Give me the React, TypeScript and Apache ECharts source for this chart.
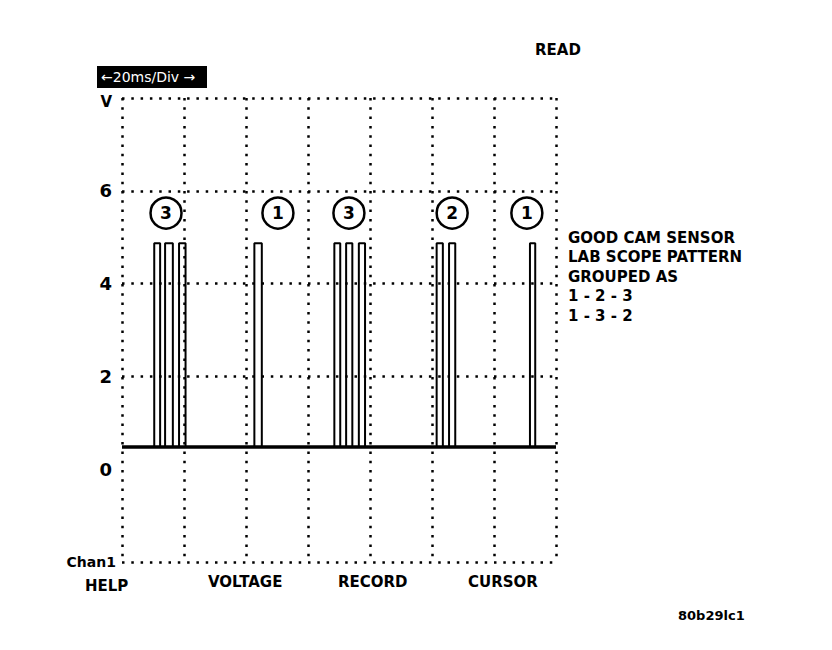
import React, { useEffect, useRef } from "react";
import * as echarts from "echarts";

// Time axis (ms) and voltage axis (V)
const timeTicks = [0, 20, 40, 60, 80, 100, 120, 140];
const voltTicks = [-2, 0, 2, 4, 6, 8];

// Signal levels (V)
const lowLevel = 0.48;
const highLevel = 4.87;

// Pulse edges (ms)
const risingEdges = [10.4, 13.9, 18.4, 42.7, 68.5, 72.3, 76.4, 101.5, 105.5, 131.6];
const fallingEdges = [12.3, 16.4, 20.5, 45.1, 70.4, 74.3, 78.4, 103.5, 107.5, 133.3];

// Group markers (circled numbers)
const groupLabels = ["3", "1", "3", "2", "1"];
const groupTimes = [14.2, 50.3, 73.2, 106.5, 130.6];
const groupVolt = 5.52;

// Soft-key labels
const softKeys = ["HELP", "VOLTAGE", "RECORD", "CURSOR"];
const noteLines = ["GOOD CAM SENSOR", "LAB SCOPE PATTERN", "GROUPED AS", "1 - 2 - 3", "1 - 3 - 2"];

const FONT = "DejaVu Sans";

export default function App() {
  const ref = useRef<HTMLDivElement>(null);
  useEffect(() => {
    if (!ref.current) return;
    const chart = echarts.init(ref.current, undefined, { renderer: "svg" });

    const trace: number[][] = [[0, lowLevel]];
    risingEdges.forEach((r, i) => {
      const f = fallingEdges[i];
      trace.push([r, lowLevel], [r, highLevel], [f, highLevel], [f, lowLevel]);
    });
    trace.push([140, lowLevel]);

    const dotted = { type: [2.5, 6.8] as any, width: 2.5, color: "#000", cap: "butt" as any };

    const softKeyX = [85, 208, 338, 468];

    chart.setOption({
      animation: false,
      backgroundColor: "#fff",
      grid: { left: 122, right: 276, top: 98, bottom: 88 },
      xAxis: {
        type: "value",
        min: timeTicks[0],
        max: timeTicks[timeTicks.length - 1],
        interval: 20,
        axisLine: { show: false },
        axisTick: { show: false },
        axisLabel: { show: false },
        splitLine: { show: true, lineStyle: dotted },
      },
      yAxis: {
        type: "value",
        min: voltTicks[0],
        max: voltTicks[voltTicks.length - 1],
        interval: 2,
        axisLine: { show: false },
        axisTick: { show: false },
        splitLine: {
          show: true,
          lineStyle: { ...dotted, color: ["#000", "rgba(0,0,0,0)", "#000", "#000", "#000", "#000"] },
        },
        axisLabel: {
          margin: 10,
          formatter: (v: number) => {
            const k = String(v);
            if (k === "8") return "{v|V}";
            if (k === "-2") return "{c|Chan1}";
            return "{n|" + k + "}";
          },
          rich: {
            n: { fontFamily: FONT, fontWeight: "bold", fontSize: 18, color: "#000" },
            v: { fontFamily: FONT, fontWeight: "bold", fontSize: 15, color: "#000", padding: [8, 0, 0, 0] },
            c: { fontFamily: FONT, fontWeight: "bold", fontSize: 14, color: "#000", padding: [0, -4, 0, 0] },
          },
        },
      },
      series: [
        {
          type: "line",
          data: [[0, lowLevel], [140, lowLevel]],
          symbol: "none",
          lineStyle: { color: "#000", width: 3.5 },
          silent: true,
          z: 3,
        },
        {
          type: "line",
          data: trace,
          symbol: "none",
          lineStyle: { color: "#000", width: 2 },
          silent: true,
          z: 4,
        },
        {
          type: "scatter",
          data: groupTimes.map((t, i) => [t, groupVolt, groupLabels[i]]),
          symbol: "circle",
          symbolSize: 31,
          itemStyle: { color: "#fff", borderColor: "#000", borderWidth: 2.5, opacity: 1 },
          label: {
            show: true,
            position: "inside",
            formatter: (p: any) => p.data[2],
            fontFamily: FONT,
            fontWeight: "bold",
            fontSize: 17,
            color: "#000",
          },
          silent: true,
          z: 5,
        },
      ],
      graphic: [
        {
          type: "text",
          left: 535,
          top: 42,
          style: { text: "READ", fontFamily: FONT, fontWeight: "bold", fontSize: 15, fill: "#000" },
        },
        {
          type: "group",
          left: 97,
          top: 66,
          children: [
            { type: "rect", shape: { x: 0, y: 0, width: 110, height: 22 }, style: { fill: "#000" } },
            {
              type: "text",
              x: 4,
              y: 11,
              style: {
                text: "←20ms/Div →",
                fontFamily: FONT,
                fontSize: 14,
                fill: "#fff",
                verticalAlign: "middle",
              },
            },
          ],
        },
        ...softKeys.map((s, i) => ({
          type: "text",
          left: softKeyX[i],
          top: i === 0 ? 578 : 574,
          style: { text: s, fontFamily: FONT, fontWeight: "bold", fontSize: 15, fill: "#000" },
        })),
        {
          type: "text",
          left: 568,
          top: 228,
          style: {
            text: noteLines.join("\n"),
            fontFamily: FONT,
            fontWeight: "bold",
            fontSize: 15,
            lineHeight: 19.5,
            fill: "#000",
          },
        },
        {
          type: "text",
          left: 678,
          top: 609,
          style: { text: "80b29lc1", fontFamily: FONT, fontWeight: "bold", fontSize: 13, fill: "#000" },
        },
      ],
    });
    return () => chart.dispose();
  }, []);
  return (
    <div
      ref={ref}
      style={{ position: "fixed", left: 0, top: 0, width: 832, height: 650, background: "#fff" }}
    />
  );
}
